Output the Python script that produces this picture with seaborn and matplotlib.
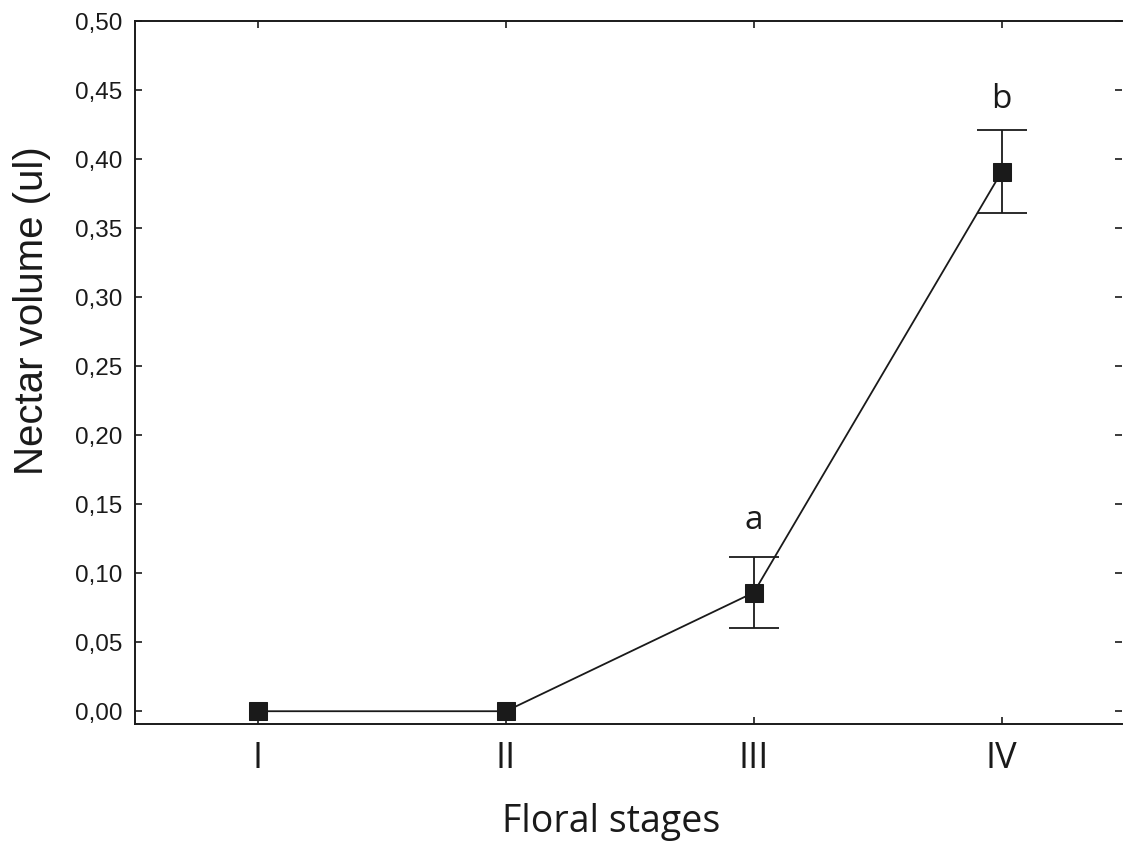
import pandas as pd
import matplotlib
matplotlib.use("Agg")
import matplotlib.pyplot as plt
import seaborn as sns

# dados
stages = ["I", "II", "III", "IV"]
nectar_mean = [0.0, 0.0, 0.086, 0.391]
err_low = [0.0, 0.0, 0.026, 0.030]
err_high = [0.0, 0.0, 0.026, 0.030]
letters = ["", "", "a", "b"]
letter_y = [None, None, 0.138, 0.443]

df = pd.DataFrame({"pos": range(len(stages)), "stage": stages, "mean": nectar_mean,
                   "lo": err_low, "hi": err_high})

sns.set_theme(style="ticks")
plt.rcParams['font.family'] = ['Liberation Sans', 'DejaVu Sans']

fig = plt.figure(figsize=(11.24, 8.48), dpi=100)
ax = fig.add_axes([0.120, 0.146, 0.878, 0.829])

# só as barras de erro não nulas (I e II não têm)
err = df[(df["lo"] > 0) | (df["hi"] > 0)]
ax.errorbar(err["pos"], err["mean"], yerr=[err["lo"], err["hi"]], fmt="none",
            ecolor="#1a1a1a", elinewidth=1.3, capsize=18, capthick=1.3, zorder=2)
sns.lineplot(data=df, x="pos", y="mean", color="#1a1a1a", linewidth=1.3,
             marker="s", markersize=13, markeredgecolor="#1a1a1a",
             markerfacecolor="#1a1a1a", ax=ax, zorder=3)

for i, (lab, ly) in enumerate(zip(letters, letter_y)):
    if lab:
        ax.text(i, ly, lab, ha="center", va="center", fontsize=24,
                family=["Open Sans", "DejaVu Sans"], color="#1a1a1a")

ax.set_xlim(-0.496, 3.484)
ax.set_ylim(-0.0094, 0.50)
ax.set_xticks(range(len(stages)))
ax.set_xticklabels(stages, family=["Open Sans", "DejaVu Sans"], fontsize=26)
ax.set_yticks([i * 0.05 for i in range(11)])
ax.set_yticklabels([f"{i * 0.05:.2f}".replace(".", ",") for i in range(11)], fontsize=17.5)

ax.tick_params(axis="both", direction="in", length=5, width=1.2, color="#1a1a1a",
               top=True, right=True, labelcolor="#1a1a1a")
ax.tick_params(axis="x", pad=12)
ax.tick_params(axis="y", pad=9)

for side in ["left", "bottom", "top"]:
    ax.spines[side].set_linewidth(1.4)
    ax.spines[side].set_color("#1a1a1a")
ax.spines["right"].set_visible(False)

ax.set_xlabel("Floral stages", family=["Open Sans", "DejaVu Sans"], fontsize=27,
              labelpad=19, color="#1a1a1a")
ax.xaxis.label.set_x(0.483)
ax.set_ylabel("Nectar volume (ul)", fontsize=29, labelpad=17, color="#1a1a1a")
ax.yaxis.label.set_y(0.588)

fig.savefig("out.png", dpi=100)
